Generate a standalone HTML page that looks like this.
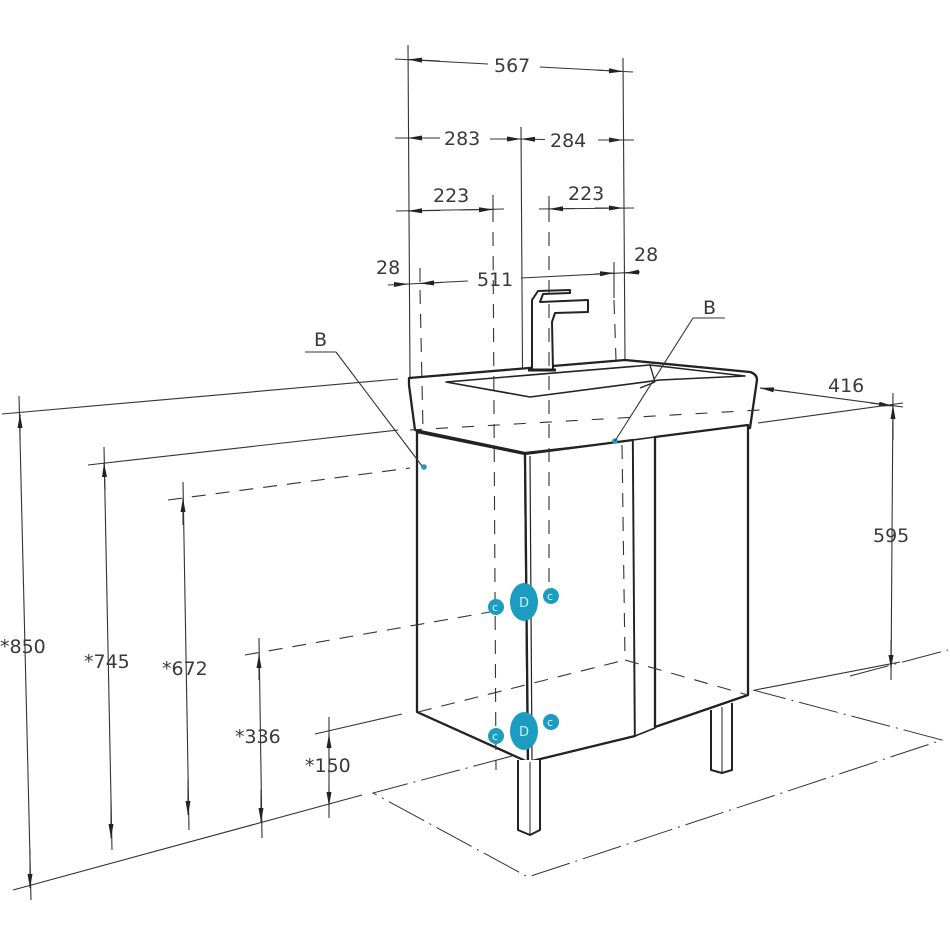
<!DOCTYPE html>
<html><head><meta charset="utf-8"><style>
html,body{margin:0;padding:0;background:#fff}
svg{display:block}
text{font-family:"DejaVu Sans","Liberation Sans",sans-serif;font-size:19px;fill:#3a3a3a}
</style></head><body>
<svg width="950" height="950" viewBox="0 0 950 950" xmlns="http://www.w3.org/2000/svg">
<defs>
<marker id="a" viewBox="0 0 14 6" refX="14" refY="3" markerWidth="14" markerHeight="6" orient="auto-start-reverse" markerUnits="userSpaceOnUse"><path d="M0,0.5 L14,3 L0,5.5z" fill="#222"/></marker>
</defs>
<g stroke="#333" stroke-width="1.1" fill="none">
<line x1="408" y1="45" x2="410" y2="378"/>
<line x1="623" y1="58" x2="625" y2="360"/>
<line x1="521" y1="127" x2="523" y2="450"/>
<line x1="395" y1="59" x2="488" y2="64" />
<line x1="540" y1="67" x2="633" y2="72"/>
<line x1="408" y1="59.5" x2="440" y2="61" marker-start="url(#a)"/>
<line x1="595" y1="70" x2="623" y2="71.5" marker-end="url(#a)"/>
<line x1="395" y1="138" x2="440" y2="138"/>
<line x1="408" y1="138" x2="430" y2="138" marker-start="url(#a)"/>
<line x1="490" y1="139" x2="521" y2="139" marker-end="url(#a)"/>
<line x1="521" y1="139" x2="545" y2="139.5" marker-start="url(#a)"/>
<line x1="598" y1="140" x2="623" y2="140" marker-end="url(#a)"/>
<line x1="598" y1="140" x2="634" y2="140"/>
<line x1="396" y1="211" x2="504" y2="209"/>
<line x1="408" y1="211" x2="440" y2="210.5" marker-start="url(#a)"/>
<line x1="460" y1="210" x2="493" y2="209.5" marker-end="url(#a)"/>
<line x1="493" y1="195" x2="493" y2="222"/>
<line x1="539" y1="209" x2="634" y2="208"/>
<line x1="549" y1="209" x2="575" y2="208.5" marker-start="url(#a)"/>
<line x1="595" y1="208" x2="623" y2="208" marker-end="url(#a)"/>
<line x1="549" y1="196" x2="549" y2="222"/>
<line x1="388" y1="285" x2="468" y2="281"/>
<line x1="395" y1="284.5" x2="408" y2="284" marker-end="url(#a)"/>
<line x1="420" y1="283.5" x2="442" y2="282.5" marker-start="url(#a)"/>
<line x1="521" y1="278" x2="640" y2="272"/>
<line x1="595" y1="274" x2="614" y2="273" marker-end="url(#a)"/>
<line x1="640" y1="272" x2="625" y2="273" marker-end="url(#a)"/>
<line x1="614" y1="262" x2="614" y2="298"/>
<line x1="420" y1="268" x2="420" y2="282"/>
</g>
<g stroke="#333" stroke-width="1.1" fill="none">
<line x1="2" y1="414" x2="398" y2="379"/>
<line x1="88" y1="465" x2="398" y2="430"/>
<line x1="315" y1="734" x2="402" y2="714"/>
<line x1="13" y1="890" x2="362" y2="795"/>
<line x1="19" y1="396" x2="31" y2="900"/>
<line x1="20" y1="440" x2="20" y2="414" marker-end="url(#a)"/>
<line x1="30" y1="850" x2="30" y2="888" marker-end="url(#a)"/>
<line x1="104" y1="447" x2="112" y2="850"/>
<line x1="105" y1="490" x2="104" y2="463" marker-end="url(#a)"/>
<line x1="111" y1="800" x2="111" y2="838" marker-end="url(#a)"/>
<line x1="183" y1="482" x2="189" y2="830"/>
<line x1="183" y1="525" x2="183" y2="498" marker-end="url(#a)"/>
<line x1="188" y1="780" x2="188" y2="815" marker-end="url(#a)"/>
<line x1="259" y1="638" x2="262" y2="838"/>
<line x1="259" y1="680" x2="259" y2="654" marker-end="url(#a)"/>
<line x1="261" y1="790" x2="261" y2="822" marker-end="url(#a)"/>
<line x1="329" y1="717" x2="329" y2="818"/>
<line x1="329" y1="750" x2="329" y2="734" marker-end="url(#a)"/>
<line x1="329" y1="785" x2="329" y2="806" marker-end="url(#a)"/>
<line x1="760" y1="388" x2="903" y2="407"/>
<line x1="760" y1="388" x2="790" y2="392" marker-start="url(#a)"/>
<line x1="870" y1="403" x2="893" y2="406" marker-end="url(#a)"/>
<line x1="758" y1="423" x2="903" y2="403"/>
<line x1="893" y1="393" x2="891" y2="680"/>
<line x1="893" y1="440" x2="893" y2="405" marker-end="url(#a)"/>
<line x1="891" y1="640" x2="891" y2="669" marker-end="url(#a)"/>
<line x1="755" y1="690" x2="900" y2="662"/>
</g>
<g stroke="#333" stroke-width="1" fill="none" stroke-dasharray="40,6,2,6">
<polyline points="512,756 373,793 528,877 942,740 753,690"/>
<line x1="850" y1="676" x2="948" y2="650"/>
</g>
<!-- basin -->
<g stroke="#222" stroke-width="2.3" fill="#fff" stroke-linejoin="round">
<path d="M409,378 L625,360 L750,372 Q757,374 757,380 L750,428 L525,453 L415,430 L409,385 Z"/>
<path d="M446,382 L650,365 L745,376 L660,380 L530,397 Z" stroke-width="1.6"/>
<path d="M650,365 L655,382 M640,388 L655,382" stroke-width="1.3" fill="none"/>
<path d="M532,370 L532,300 L538,291 L570,290 L570,293 L543,294 L540,302 L588,300 L588,312 L555,313 L552,322 L553,370 Z" stroke-width="2"/>
<line x1="528" y1="370" x2="556" y2="370" stroke-width="3"/>
</g>
<!-- cabinet -->
<g stroke="#222" stroke-width="2.3" fill="#fff" stroke-linejoin="round">
<path d="M417,432 L525,454 L528,762 L417,712 Z"/>
<path d="M525,454 L633,440 L635,736 L528,762 Z"/>
<path d="M633,440 L655,437 L655,728 L635,736 Z" stroke-width="1.6"/>
<path d="M655,437 L748,425 L748,695 L655,727 Z"/>
<line x1="530" y1="456" x2="532" y2="760" stroke-width="1.2"/>
<path d="M518,760 L518,830 L530,835 L540,830 L540,760" stroke-width="2"/>
<line x1="530" y1="762" x2="530" y2="834" stroke-width="1"/>
<path d="M711,710 L711,770 L722,773 L732,770 L732,703" stroke-width="2"/>
<line x1="722" y1="707" x2="722" y2="772" stroke-width="1"/>
</g>
<!-- hidden lines on top -->
<g stroke="#333" stroke-width="1.1" fill="none" stroke-dasharray="14,10">
<line x1="420" y1="290" x2="423" y2="430"/>
<line x1="493" y1="232" x2="496" y2="770"/>
<line x1="549" y1="232" x2="549" y2="600"/>
<line x1="614" y1="300" x2="616" y2="360"/>
<line x1="410" y1="430" x2="760" y2="410" stroke-dasharray="12,14"/>
<line x1="168" y1="500" x2="410" y2="468"/>
<line x1="245" y1="655" x2="490" y2="612"/>
<line x1="418" y1="712" x2="625" y2="660"/>
<line x1="625" y1="660" x2="748" y2="695"/>
<line x1="622" y1="445" x2="625" y2="660"/>
</g>
<g fill="#1b9cc0">
<circle cx="424" cy="467" r="2.8"/><circle cx="615" cy="441" r="2.8"/>
<ellipse cx="524" cy="602" rx="14" ry="19"/><circle cx="496" cy="607" r="8"/><circle cx="551" cy="596" r="8"/>
<ellipse cx="524" cy="731" rx="14" ry="19"/><circle cx="496" cy="736" r="8"/><circle cx="551" cy="722" r="8"/>
</g>
<g>
<text x="519" y="607" style="font-size:13px;fill:#cdeef7">D</text><text x="492" y="611" style="font-size:11px;fill:#dff">c</text><text x="547" y="600" style="font-size:11px;fill:#dff">c</text>
<text x="519" y="736" style="font-size:13px;fill:#cdeef7">D</text><text x="492" y="740" style="font-size:11px;fill:#dff">c</text><text x="547" y="726" style="font-size:11px;fill:#dff">c</text>
</g>
<g stroke="#333" stroke-width="1.1" fill="none">
<line x1="305" y1="352" x2="336" y2="352"/>
<line x1="336" y1="352" x2="422" y2="466"/>
<line x1="693" y1="318" x2="725" y2="318"/>
<line x1="693" y1="318" x2="615" y2="441"/>
</g>
<text x="494" y="72">567</text>
<text x="444" y="145">283</text>
<text x="550" y="147">284</text>
<text x="433" y="202">223</text>
<text x="568" y="200">223</text>
<text x="376" y="274">28</text>
<text x="477" y="286">511</text>
<text x="634" y="261">28</text>
<text x="314" y="346">B</text>
<text x="703" y="314">B</text>
<text x="828" y="392">416</text>
<text x="873" y="542">595</text>
<text x="0" y="653">*850</text>
<text x="84" y="668">*745</text>
<text x="162" y="675">*672</text>
<text x="235" y="743">*336</text>
<text x="305" y="772">*150</text>
</svg>
</body></html>
